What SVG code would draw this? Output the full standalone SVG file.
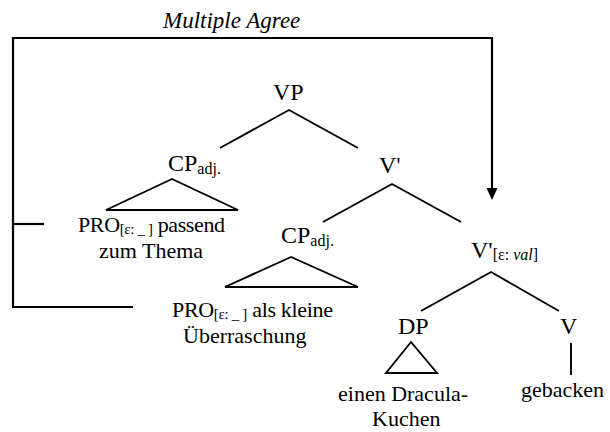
<svg xmlns="http://www.w3.org/2000/svg" width="610" height="432" viewBox="0 0 610 432">
  <style>
    text { font-family: "Liberation Serif", "Times New Roman", serif; fill: #000; }
    .cat { font-size: 24px; }
    .leaf { font-size: 22px; }
    .sub { font-size: 16px; }
    .feat { font-size: 15px; }
    .it { font-style: italic; }
    .edge { stroke: #000; stroke-width: 1.9; fill: none; stroke-linecap: butt; }
    .tri { stroke: #000; stroke-width: 1.9; fill: none; stroke-linejoin: miter; }
    .agree { stroke: #000; stroke-width: 2.2; fill: none; }
  </style>

  <!-- Agree relation bracket -->
  <g id="agree">
    <text class="it" x="163" y="28" font-size="23">Multiple Agree</text>
    <path class="agree" d="M133,307 H13 V38 H492 V191"/>
    <path class="agree" d="M13,224 H44"/>
    <polygon points="492,200 486.5,188 497.5,188" fill="#000"/>
  </g>

  <!-- Tree edges -->
  <g id="edges">
    <path class="edge" d="M220,148 L289,110 L358,148"/>
    <path class="edge" d="M323,222 L392,184 L461,222"/>
    <path class="edge" d="M421,311 L491,272 L559,311"/>
    <path class="edge" d="M571,343 V375"/>
    <polygon class="tri" points="172,179 106,210 238,210"/>
    <polygon class="tri" points="291,257 225,287 358,287"/>
    <polygon class="tri" points="411,342 386,373 437,373"/>
  </g>

  <g id="vp"><text class="cat" x="273" y="100">VP</text></g>

  <g id="cp1">
    <text class="cat" x="168" y="171">CP<tspan class="sub" dy="3">adj.</tspan></text>
  </g>
  <g id="cp1-leaf">
    <text class="leaf" x="78" y="232" textLength="147">PRO<tspan class="feat" dy="2">[ε: _ ]</tspan><tspan dy="-2"> passend</tspan></text>
    <text class="leaf" x="99" y="258">zum Thema</text>
  </g>

  <g id="vbar1"><text class="cat" x="379" y="173">V'</text></g>

  <g id="cp2">
    <text class="cat" x="281" y="243">CP<tspan class="sub" dy="3">adj.</tspan></text>
  </g>
  <g id="cp2-leaf">
    <text class="leaf" x="172" y="317" textLength="161">PRO<tspan class="feat" dy="2">[ε: _ ]</tspan><tspan dy="-2"> als kleine</tspan></text>
    <text class="leaf" x="183" y="343">Überraschung</text>
  </g>

  <g id="vbar2">
    <text class="cat" x="471" y="258">V'<tspan class="sub" dy="2">[ε: <tspan class="it">val</tspan>]</tspan></text>
  </g>

  <g id="dp"><text class="cat" x="398" y="334">DP</text></g>
  <g id="dp-leaf">
    <text class="leaf" x="338" y="401">einen Dracula-</text>
    <text class="leaf" x="372" y="426">Kuchen</text>
  </g>

  <g id="v"><text class="cat" x="560" y="334">V</text></g>
  <g id="v-leaf"><text class="leaf" x="521" y="397">gebacken</text></g>
</svg>
